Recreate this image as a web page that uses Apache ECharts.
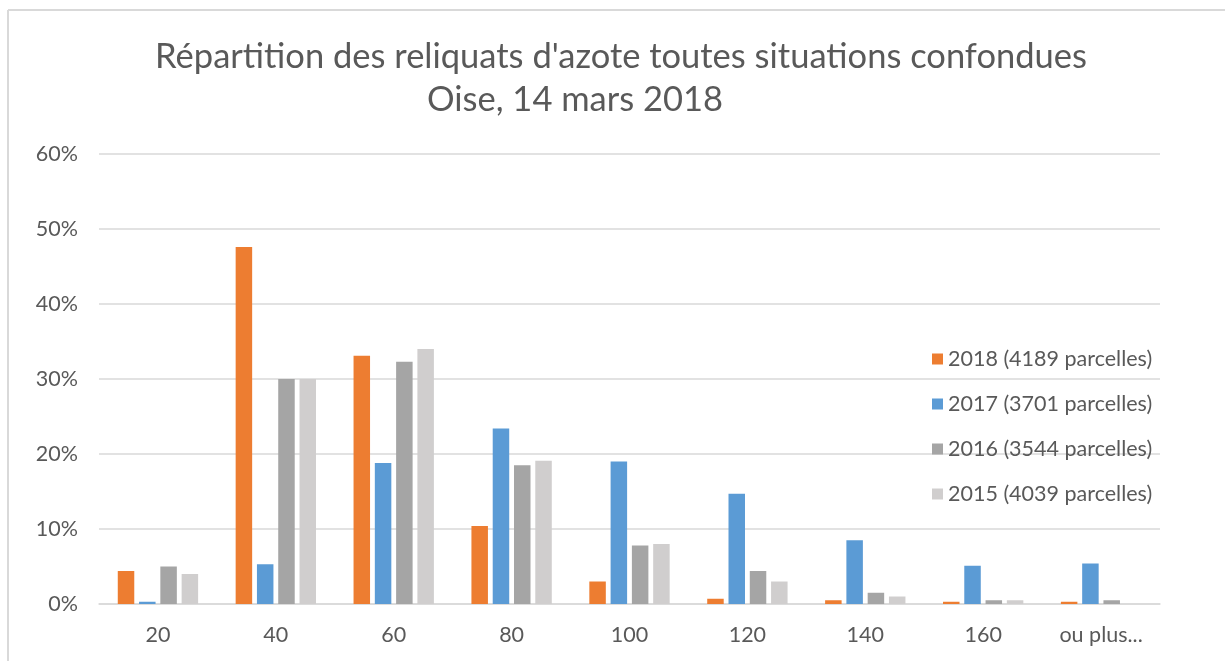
<!DOCTYPE html>
<html>
<head>
<meta charset="utf-8">
<script src="https://cdn.jsdelivr.net/npm/echarts@6/dist/echarts.min.js"></script>
<style>
html,body{margin:0;padding:0;background:#fff;}
#chart{width:1225px;height:661px;}
</style>
</head>
<body>
<div id="chart"></div>
<script>
const titleLines = ["Répartition des reliquats d'azote toutes situations confondues", "Oise, 14 mars 2018"];
const categories = ["20", "40", "60", "80", "100", "120", "140", "160", "ou plus..."];
const seriesNames = ["2018 (4189 parcelles)", "2017 (3701 parcelles)", "2016 (3544 parcelles)", "2015 (4039 parcelles)"];
const values2018 = [4.4, 47.6, 33.1, 10.4, 3.0, 0.7, 0.5, 0.3, 0.3];
const values2017 = [0.3, 5.3, 18.8, 23.4, 19.0, 14.7, 8.5, 5.1, 5.4];
const values2016 = [5.0, 30.0, 32.3, 18.5, 7.8, 4.4, 1.5, 0.5, 0.5];
const values2015 = [4.0, 30.0, 34.0, 19.1, 8.0, 3.0, 1.0, 0.5, 0.0];
const colors = ["#ED7D31", "#5B9BD5", "#A5A5A5", "#D0CECE"];

const allValues = [values2018, values2017, values2016, values2015];
const FONT = "Lato";
const chart = echarts.init(document.getElementById('chart'));
const titleStyle = {fontFamily: FONT, fontSize: 34.5, fontWeight: 'normal', fill: '#595959', align: 'center', verticalAlign: 'middle'};
chart.setOption({
  animation: false,
  color: colors,
  legend: {
    orient: 'vertical',
    left: 927,
    top: 343,
    itemWidth: 11,
    itemHeight: 11,
    itemGap: 23,
    icon: 'rect',
    textStyle: {fontFamily: FONT, fontSize: 21.5, color: '#595959', lineHeight: 22},
    data: seriesNames
  },
  grid: {left: 99, right: 65, top: 154, bottom: 57, containLabel: false},
  xAxis: {
    type: 'category',
    data: categories,
    axisLine: {lineStyle: {color: '#D9D9D9', width: 1.5}},
    axisTick: {show: false},
    axisLabel: {fontFamily: FONT, fontSize: 21.5, color: '#595959', margin: 20}
  },
  yAxis: {
    type: 'value',
    min: 0, max: 60, interval: 10,
    axisLine: {show: false},
    axisTick: {show: false},
    axisLabel: {fontFamily: FONT, fontSize: 21.5, color: '#595959', margin: 21, formatter: '{value}%'},
    splitLine: {lineStyle: {color: '#D9D9D9', width: 1.5}}
  },
  graphic: [
    {type: 'line', shape: {x1: 8, y1: 10, x2: 1225, y2: 10}, style: {stroke: '#D9D9D9', lineWidth: 2}},
    {type: 'line', shape: {x1: 8, y1: 10, x2: 8, y2: 661}, style: {stroke: '#D9D9D9', lineWidth: 2}},
    {type: 'text', x: 621, y: 57, style: Object.assign({text: titleLines[0]}, titleStyle)},
    {type: 'text', x: 575, y: 100, style: Object.assign({text: titleLines[1]}, titleStyle)}
  ],
  series: seriesNames.map((n, i) => ({
    name: n,
    type: 'bar',
    data: allValues[i],
    barWidth: 16.5,
    barGap: '29%',
    itemStyle: {color: colors[i]}
  }))
});
</script>
</body>
</html>
